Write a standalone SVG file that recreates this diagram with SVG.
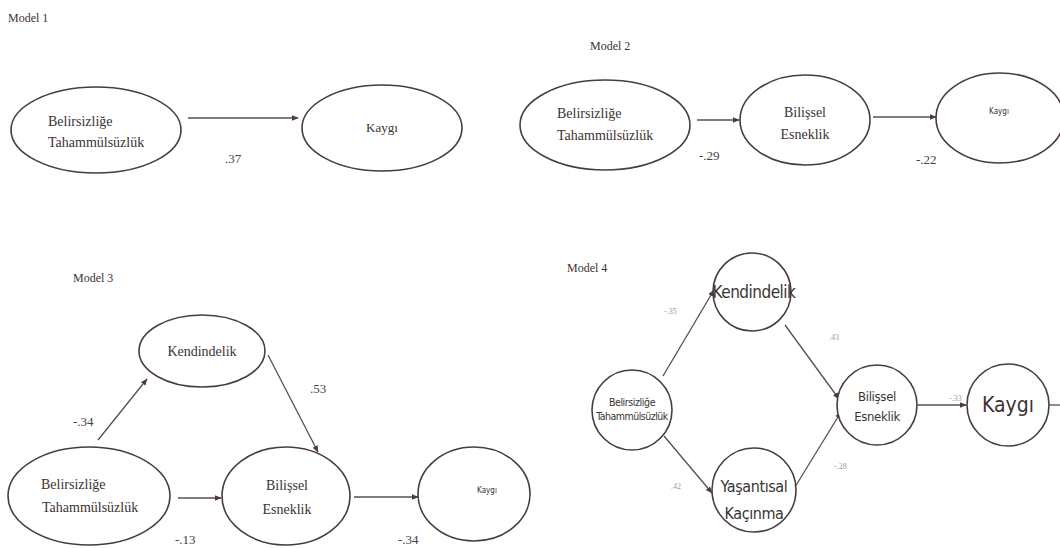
<svg xmlns="http://www.w3.org/2000/svg" width="1060" height="548" viewBox="0 0 1060 548">
<style>
.n{fill:#fff;stroke:#4a3c3c;stroke-width:1.6}
.e{stroke:#5a4e4e;stroke-width:1.3;fill:none;marker-end:url(#ah)}
.t{font-family:"Liberation Serif","DejaVu Serif",serif;fill:#3a3333}
.s{font-family:"DejaVu Sans Condensed","DejaVu Sans","Liberation Sans",sans-serif;font-stretch:condensed;fill:#3a3333}
.lbl{font-family:"Liberation Serif","DejaVu Serif",serif;fill:#444;font-size:13px}
.sl{font-family:"Liberation Serif",serif;fill:#999;font-size:8px}
</style>
<defs>
<marker id="ah" viewBox="0 0 10 10" refX="9" refY="5" markerWidth="7" markerHeight="7" orient="auto" markerUnits="userSpaceOnUse"><path d="M0,1 L10,5 L0,9 z" fill="#4a3c3c"/></marker>
</defs>
<rect width="1060" height="548" fill="#fff"/>
<g class="t" font-size="12">
<text x="8" y="22">Model 1</text>
<text x="590" y="50">Model 2</text>
<text x="73" y="282">Model 3</text>
<text x="567" y="272">Model 4</text>
</g>
<g id="connectors">
<line class="e" x1="188" y1="118" x2="298" y2="118"/>
<line class="e" x1="697" y1="120" x2="739" y2="120"/>
<line class="e" x1="873" y1="117" x2="936" y2="117"/>
<line class="e" x1="98" y1="440" x2="147" y2="379"/>
<line class="e" x1="268" y1="355" x2="318" y2="452"/>
<line class="e" x1="178" y1="498" x2="221" y2="498"/>
<line class="e" x1="354" y1="497" x2="418" y2="497"/>
<line class="e" x1="663" y1="376" x2="714" y2="290"/>
<line class="e" x1="664" y1="436" x2="712" y2="493"/>
<line class="e" x1="785" y1="325" x2="839" y2="399"/>
<line class="e" x1="795" y1="487" x2="841" y2="412"/>
<line class="e" x1="918" y1="405" x2="966" y2="405"/>
<line x1="1049" y1="405" x2="1060" y2="405" stroke="#5a4e4e" stroke-width="1.3"/>
<text class="lbl" x="225" y="163">.37</text>
<text class="lbl" x="699" y="160">-.29</text>
<text class="lbl" x="916" y="164">-.22</text>
<text class="lbl" x="73" y="426">-.34</text>
<text class="lbl" x="310" y="393">.53</text>
<text class="lbl" x="175" y="544">-.13</text>
<text class="lbl" x="398" y="544">-.34</text>
<text class="sl" x="664" y="314">-.35</text>
<text class="sl" x="671" y="489">.42</text>
<text class="sl" x="829" y="340">.43</text>
<text class="sl" x="834" y="469">-.28</text>
<text class="sl" x="949" y="401">-.33</text>
</g>
<g id="m1-belirsizlige">
<ellipse class="n" cx="96" cy="130" rx="85" ry="43"/>
<text class="t" font-size="14" x="48" y="126">Belirsizliğe</text>
<text class="t" font-size="14" x="48" y="147">Tahammülsüzlük</text>
</g>
<g id="m1-kaygi">
<ellipse class="n" cx="382" cy="128" rx="80" ry="43"/>
<text class="t" font-size="13" x="382" y="132" text-anchor="middle">Kaygı</text>
</g>
<g id="m2-belirsizlige">
<ellipse class="n" cx="605" cy="125" rx="85" ry="45"/>
<text class="t" font-size="14" x="557" y="118">Belirsizliğe</text>
<text class="t" font-size="14" x="557" y="140">Tahammülsüzlük</text>
</g>
<g id="m2-bilissel">
<ellipse class="n" cx="805" cy="120" rx="65" ry="45"/>
<text class="t" font-size="14" x="805" y="117" text-anchor="middle">Bilişsel</text>
<text class="t" font-size="14" x="805" y="139" text-anchor="middle">Esneklik</text>
</g>
<g id="m2-kaygi">
<ellipse class="n" cx="1000" cy="118" rx="64" ry="45"/>
<text class="s" font-size="8" x="999" y="114" text-anchor="middle">Kaygı</text>
</g>
<g id="m3-kendindelik">
<ellipse class="n" cx="202" cy="351" rx="63" ry="36"/>
<text class="t" font-size="14" x="202" y="356" text-anchor="middle">Kendindelik</text>
</g>
<g id="m3-belirsizlige">
<ellipse class="n" cx="89" cy="496" rx="81" ry="49"/>
<text class="t" font-size="14" x="41" y="489">Belirsizliğe</text>
<text class="t" font-size="14" x="42" y="512">Tahammülsüzlük</text>
</g>
<g id="m3-bilissel">
<ellipse class="n" cx="286" cy="496" rx="64" ry="49"/>
<text class="t" font-size="14" x="287" y="490" text-anchor="middle">Bilişsel</text>
<text class="t" font-size="14" x="287" y="514" text-anchor="middle">Esneklik</text>
</g>
<g id="m3-kaygi">
<ellipse class="n" cx="474" cy="494" rx="56" ry="47"/>
<text class="s" font-size="8" x="487" y="493" text-anchor="middle">Kaygı</text>
</g>
<g id="m4-belirsizlige">
<circle class="n" cx="632" cy="410" r="40"/>
<text class="s" font-size="10.5" x="632" y="406" text-anchor="middle" letter-spacing="-0.4">Belirsizliğe</text>
<text class="s" font-size="10.5" x="632" y="420" text-anchor="middle" letter-spacing="-0.5">Tahammülsüzlük</text>
</g>
<g id="m4-kendindelik">
<circle class="n" cx="752" cy="292" r="39"/>
<text class="s" font-size="17" x="754" y="298" text-anchor="middle" letter-spacing="-0.5">Kendindelik</text>
</g>
<g id="m4-yasantisal">
<circle class="n" cx="754" cy="490" r="42"/>
<text class="s" font-size="16" x="754" y="492" text-anchor="middle" letter-spacing="-0.4">Yaşantısal</text>
<text class="s" font-size="16" x="754" y="519" text-anchor="middle" letter-spacing="-0.4">Kaçınma</text>
</g>
<g id="m4-bilissel">
<circle class="n" cx="877" cy="405" r="40"/>
<text class="s" font-size="13" x="877" y="401" text-anchor="middle" letter-spacing="-0.3">Bilişsel</text>
<text class="s" font-size="13" x="877" y="421" text-anchor="middle" letter-spacing="-0.3">Esneklik</text>
</g>
<g id="m4-kaygi">
<circle class="n" cx="1008" cy="405" r="41"/>
<text class="s" font-size="21" x="1008" y="412" text-anchor="middle">Kaygı</text>
</g>
</svg>
